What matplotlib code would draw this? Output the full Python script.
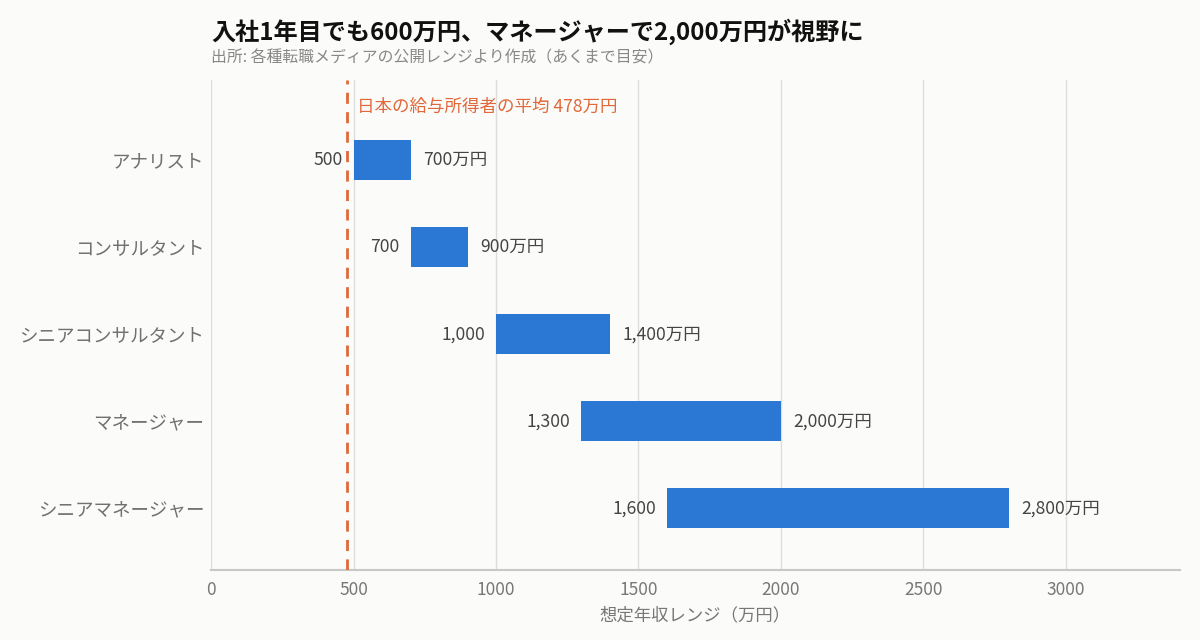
import matplotlib.pyplot as plt

plt.rcParams['font.family'] = ['Noto Sans CJK JP', 'DejaVu Sans']

# データ（万円）
roles = ['アナリスト', 'コンサルタント', 'シニアコンサルタント', 'マネージャー', 'シニアマネージャー']
low = [500, 700, 1000, 1300, 1600]
high = [700, 900, 1400, 2000, 2800]
avg_income = 478
xticks = [0, 500, 1000, 1500, 2000, 2500, 3000]

bg = '#fbfbf9'
bar_color = '#2a78d4'
avg_color = '#e0683a'

fig = plt.figure(figsize=(12, 6.4), dpi=100, facecolor=bg)
ax = fig.add_axes([0.176, 0.109, 0.807, 0.766], facecolor=bg)

y = list(range(len(roles)))
widths = [h - l for l, h in zip(low, high)]
ax.barh(y, widths, left=low, height=0.46, color=bar_color, zorder=3)

for i in y:
    ax.annotate(f'{low[i]:,}', (low[i], i), xytext=(-8, 0), textcoords='offset points',
                ha='right', va='center', fontsize=12.6, color='#444444')
    ax.annotate(f'{high[i]:,}万円', (high[i], i), xytext=(9, 0), textcoords='offset points',
                ha='left', va='center', fontsize=12.6, color='#444444')

ax.axvline(avg_income, color=avg_color, linestyle=(0, (4, 3)), linewidth=2, zorder=4)
ax.annotate(f'日本の給与所得者の平均 {avg_income}万円', (avg_income, -0.92), xytext=(7, -13),
            textcoords='offset points', ha='left', va='top', fontsize=12.6, color=avg_color)

ax.set_xlim(0, 3400)
ax.set_ylim(4.71, -0.92)
ax.set_yticks(y)
ax.set_yticklabels(roles, fontsize=13.3, color='#707070')
ax.set_xticks(xticks)
ax.set_xticklabels([str(t) for t in xticks], fontsize=12.5, color='#777777')
ax.tick_params(axis='both', length=0, pad=8)
ax.tick_params(axis='y', pad=5)
ax.grid(axis='x', color='#dddddd', linewidth=1, zorder=0)
for s in ['top', 'right', 'left']:
    ax.spines[s].set_visible(False)
ax.spines['bottom'].set_color('#c8c8c4')
ax.spines['bottom'].set_linewidth(1.5)
ax.set_xlabel('想定年収レンジ（万円）', fontsize=12.5, color='#777777', labelpad=5)

fig.text(0.176, 0.95, '入社1年目でも600万円、マネージャーで2,000万円が視野に',
         fontsize=17.4, fontweight='bold', color='#111111', ha='left', va='center')
fig.text(0.176, 0.91, '出所: 各種転職メディアの公開レンジより作成（あくまで目安）',
         fontsize=11.4, color='#888888', ha='left', va='center')

fig.savefig('out.png', dpi=100, facecolor=bg)
